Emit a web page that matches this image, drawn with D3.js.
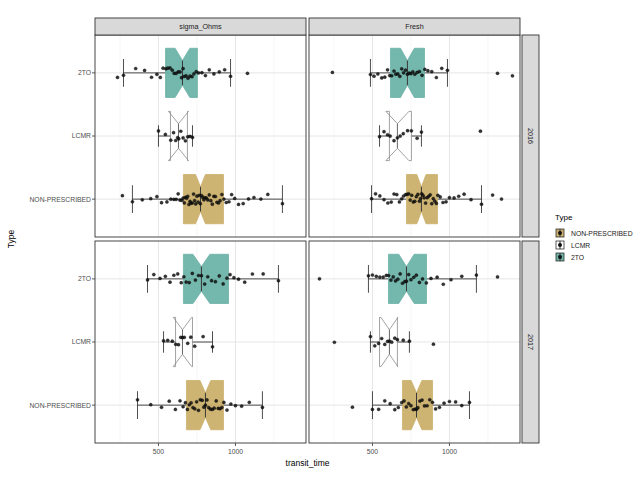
<!DOCTYPE html>
<html><head><meta charset="utf-8">
<script src="https://cdn.jsdelivr.net/npm/d3@7"></script>
<style>body{margin:0;background:#fff;} text{font-family:"Liberation Sans",Arial,sans-serif;}</style>
</head><body><svg id="c" width="643" height="484"></svg>
<script>
// ---- data ----
const colFacets = ["sigma_Ohms", "Fresh"];
const rowFacets = ["2016", "2017"];
const types = ["NON-PRESCRIBED", "LCMR", "2TO"];      // factor order (bottom -> top)
const typeColors = ["#cbb06c", "#ffffff", "#6db3a8"];
const xTicks = [500, 1000];
const xMinor = [250, 750, 1250];
// panels: 0 = sigma/2016, 1 = Fresh/2016, 2 = sigma/2017, 3 = Fresh/2017 ; per type [LONG, LCMR, 2TO]
const whiskLo = [[331, 500, 273], [494, 546, 487], [364, 533, 429], [500, 487, 474]];
const q1      = [[662, 578, 546], [721, 610, 617], [682, 611, 662], [695, 546, 604]];
const median  = [[773, 630, 656], [818, 662, 727], [805, 656, 779], [786, 610, 721]];
const q3      = [[922, 688, 753], [922, 753, 838], [922, 721, 955], [890, 662, 851]];
const whiskHi = [[1305, 721, 968], [1208, 818, 987], [1175, 851, 1279], [1130, 740, 1175]];
const notchHalf = [[32, 65, 48], [30, 75, 45], [35, 60, 55], [35, 55, 50]];
const points = [
  [ // sigma / 2016
    [266,331,395,450,490,520,555,580,600,615,628,640,652,660,668,675,683,690,698,705,712,720,728,735,742,750,758,765,772,780,788,795,803,812,820,830,840,850,860,870,880,890,900,912,925,940,958,975,995,1020,1050,1085,1120,1165,1210,1305],
    [500,545,580,598,612,625,632,645,660,675,690,705,721],
    [234,273,352,410,455,490,512,530,548,560,575,590,602,615,628,640,650,660,668,680,692,705,718,730,745,760,782,805,830,860,895,930,968,1078]
  ],
  [ // Fresh / 2016
    [494,520,548,575,600,622,640,658,675,690,702,715,725,735,745,755,765,775,785,795,805,812,820,828,836,845,855,865,875,885,895,905,915,925,940,958,978,1000,1030,1060,1095,1140,1208,1280,1338],
    [546,575,598,615,640,662,680,700,728,753,790,818,1201],
    [240,487,510,535,560,580,598,612,625,640,652,665,678,690,702,715,727,738,750,762,775,790,805,822,840,860,885,915,950,987,1312,1409]
  ],
  [ // sigma / 2017
    [364,450,520,570,610,640,660,675,688,700,712,724,736,748,760,772,784,795,805,815,826,838,850,862,875,888,900,912,925,945,970,1000,1040,1090,1175],
    [533,560,590,612,630,645,656,668,690,710,735,790,851],
    [429,470,510,545,575,600,625,648,665,680,700,720,740,760,779,800,820,845,870,895,920,945,965,990,1020,1060,1110,1180,1279]
  ],
  [ // Fresh / 2017
    [370,500,540,580,615,645,668,690,705,720,735,750,765,778,786,795,808,822,838,855,872,890,910,935,965,1000,1040,1080,1130],
    [253,487,515,540,560,580,598,610,625,645,662,700,740,896],
    [156,474,500,525,548,570,590,605,620,635,650,665,680,695,710,721,735,750,768,785,805,825,850,880,920,960,1010,1080,1175,1312]
  ]
];

// ---- layout ----
const svg = d3.select("#c");
const colX = [95, 309], pw = 211;
const rowY = [35, 241], ph = 202;
const xDomain = [88, 1458];
const fontTick = 6.8;

// deterministic scatter for vertical jitter (position only)
function jit(i) { const s = Math.sin(i * 12.9898 + 78.233) * 43758.5453; return (s - Math.floor(s)) * 2 - 1; }

for (let p = 0; p < 4; p++) {
  const r = Math.floor(p / 2), c = p % 2;
  const x0 = colX[c], y0 = rowY[r];
  const x = d3.scaleLinear().domain(xDomain).range([x0, x0 + pw]);
  const y = d3.scalePoint().domain(types.slice().reverse()).range([y0, y0 + ph]).padding(0.6);
  const step = y.step();
  const g = svg.append("g");
  g.append("rect").attr("x", x0).attr("y", y0).attr("width", pw).attr("height", ph).attr("fill", "#fff");
  // grid
  xMinor.forEach(v => g.append("line").attr("x1", x(v)).attr("x2", x(v)).attr("y1", y0).attr("y2", y0 + ph)
    .attr("stroke", "#f2f2f2").attr("stroke-width", 0.6));
  xTicks.forEach(v => g.append("line").attr("x1", x(v)).attr("x2", x(v)).attr("y1", y0).attr("y2", y0 + ph)
    .attr("stroke", "#e6e6e6").attr("stroke-width", 1));
  types.forEach(t => g.append("line").attr("x1", x0).attr("x2", x0 + pw).attr("y1", y(t)).attr("y2", y(t))
    .attr("stroke", "#e6e6e6").attr("stroke-width", 1));

  types.forEach((t, ti) => {
    const yc = y(t);
    const half = step * 0.39;
    const capHalf = ti === 1 ? step * 0.17 : step * 0.22;
    // whisker / errorbar
    g.append("line").attr("x1", x(whiskLo[p][ti])).attr("x2", x(whiskHi[p][ti])).attr("y1", yc).attr("y2", yc)
      .attr("stroke", "#222").attr("stroke-width", 0.8);
    [whiskLo[p][ti], whiskHi[p][ti]].forEach(v =>
      g.append("line").attr("x1", x(v)).attr("x2", x(v)).attr("y1", yc - capHalf).attr("y2", yc + capHalf)
        .attr("stroke", "#222").attr("stroke-width", 0.8));
    // notched box
    const top = yc - half, bot = yc + half, ind = half * 0.5;
    const nLo = median[p][ti] - notchHalf[p][ti], nHi = median[p][ti] + notchHalf[p][ti];
    const poly = [[q1[p][ti], top], [nLo, top], [median[p][ti], top + ind], [nHi, top], [q3[p][ti], top],
                  [q3[p][ti], bot], [nHi, bot], [median[p][ti], bot - ind], [nLo, bot], [q1[p][ti], bot]];
    const stroke = ti === 1 ? "#8a8a8a" : typeColors[ti];
    g.append("path").attr("d", "M" + poly.map(d => [x(d[0]), d[1]].join(",")).join("L") + "Z")
      .attr("fill", typeColors[ti]).attr("fill-opacity", ti === 1 ? 0.9 : 0.95)
      .attr("stroke", stroke).attr("stroke-width", 0.8);
    g.append("line").attr("x1", x(median[p][ti])).attr("x2", x(median[p][ti]))
      .attr("y1", top + ind).attr("y2", bot - ind).attr("stroke", ti === 1 ? "#666" : "#3a3a3a").attr("stroke-width", 1);
    // jittered points
    points[p][ti].forEach((v, i) => {
      g.append("circle").attr("cx", x(v)).attr("cy", yc + jit(i + ti * 101 + p * 1009) * 5.5).attr("r", 1.6)
        .attr("fill", "#111").attr("fill-opacity", 0.85).attr("stroke", "#000").attr("stroke-width", 0.3);
    });
  });
  // border
  g.append("rect").attr("x", x0).attr("y", y0).attr("width", pw).attr("height", ph)
    .attr("fill", "none").attr("stroke", "#333").attr("stroke-width", 0.9);

  // x axis on bottom row
  if (r === 1) {
    xTicks.forEach(v => {
      svg.append("line").attr("x1", x(v)).attr("x2", x(v)).attr("y1", y0 + ph).attr("y2", y0 + ph + 3)
        .attr("stroke", "#333").attr("stroke-width", 0.8);
      svg.append("text").attr("x", x(v)).attr("y", y0 + ph + 11).attr("text-anchor", "middle")
        .attr("font-size", fontTick).attr("fill", "#4d4d4d").text(v);
    });
  }
  // y axis on left col
  if (c === 0) {
    types.forEach(t => {
      svg.append("line").attr("x1", x0 - 3).attr("x2", x0).attr("y1", y(t)).attr("y2", y(t))
        .attr("stroke", "#333").attr("stroke-width", 0.8);
      svg.append("text").attr("x", x0 - 4).attr("y", y(t) + 2.4).attr("text-anchor", "end")
        .attr("font-size", fontTick).attr("fill", "#4d4d4d").text(t);
    });
  }
  // strips
  if (r === 0) {
    svg.append("rect").attr("x", x0).attr("y", 18).attr("width", pw).attr("height", 17)
      .attr("fill", "#d9d9d9").attr("stroke", "#333").attr("stroke-width", 0.9);
    svg.append("text").attr("x", x0 + pw / 2).attr("y", 29).attr("text-anchor", "middle")
      .attr("font-size", 7.2).attr("fill", "#1a1a1a").text(colFacets[c]);
  }
  if (c === 1) {
    svg.append("rect").attr("x", x0 + pw + 2).attr("y", y0).attr("width", 17).attr("height", ph)
      .attr("fill", "#d9d9d9").attr("stroke", "#333").attr("stroke-width", 0.9);
    svg.append("text").attr("transform", `translate(${x0 + pw + 8},${y0 + ph / 2}) rotate(90)`)
      .attr("text-anchor", "middle").attr("font-size", 7.2).attr("fill", "#1a1a1a").text(rowFacets[r]);
  }
}

// axis titles
svg.append("text").attr("x", (colX[0] + colX[1] + pw) / 2).attr("y", 466).attr("text-anchor", "middle")
  .attr("font-size", 8.5).attr("fill", "#000").text("transit_time");
svg.append("text").attr("transform", "translate(14,239) rotate(-90)").attr("text-anchor", "middle")
  .attr("font-size", 8.5).attr("fill", "#000").text("Type");

// legend
const lg = svg.append("g").attr("transform", "translate(555,0)");
lg.append("text").attr("x", 0).attr("y", 220).attr("font-size", 8).attr("fill", "#000").text("Type");
types.forEach((t, i) => {
  const cy = 233 + i * 12;
  lg.append("rect").attr("x", 1).attr("y", cy - 4).attr("width", 8).attr("height", 8)
    .attr("fill", typeColors[i]).attr("stroke", "#333").attr("stroke-width", 0.8);
  lg.append("line").attr("x1", 5).attr("x2", 5).attr("y1", cy - 4).attr("y2", cy + 4).attr("stroke", "#333");
  lg.append("circle").attr("cx", 5).attr("cy", cy).attr("r", 2).attr("fill", "#111");
  lg.append("text").attr("x", 16).attr("y", cy + 2.5).attr("font-size", 6.8).attr("fill", "#1a1a1a").text(t);
});
</script></body></html>
